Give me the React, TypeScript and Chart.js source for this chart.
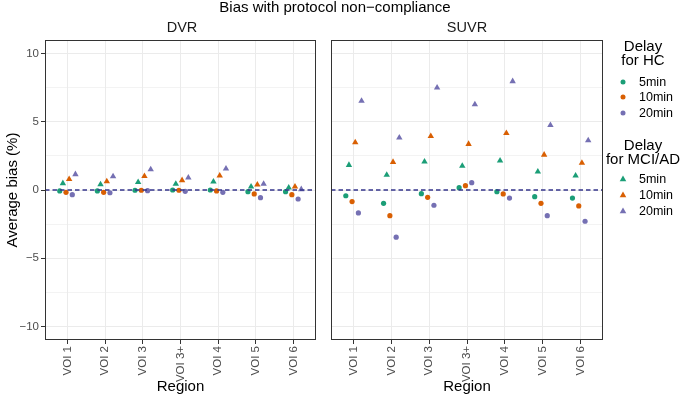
import React, { useEffect, useRef } from "react";
import { Chart, registerables } from "chart.js";
Chart.register(...registerables);

const regions = ["VOI 1", "VOI 2", "VOI 3", "VOI 3+", "VOI 4", "VOI 5", "VOI 6"];
const delays = ["5min", "10min", "20min"];
const delayColors = ["#1B9E77", "#D95F02", "#7570B3"];
const yTicks = [-10, -7.5, -5, -2.5, 0, 2.5, 5, 7.5, 10];
const refLineValue = 0;

// DVR panel
const dvrHC5 = [-0.07, -0.07, -0.02, 0.0, 0.0, -0.12, -0.12];
const dvrHC10 = [-0.17, -0.17, -0.02, -0.02, -0.07, -0.29, -0.34];
const dvrHC20 = [-0.34, -0.2, -0.05, -0.1, -0.17, -0.56, -0.66];
const dvrMCI5 = [0.49, 0.41, 0.58, 0.44, 0.61, 0.24, 0.17];
const dvrMCI10 = [0.8, 0.63, 1.02, 0.71, 1.05, 0.39, 0.24];
const dvrMCI20 = [1.15, 1.0, 1.51, 0.9, 1.56, 0.44, 0.05];

// SUVR panel
const suvrHC5 = [-0.42, -0.98, -0.27, 0.17, -0.12, -0.49, -0.59];
const suvrHC10 = [-0.85, -1.88, -0.54, 0.32, -0.29, -0.98, -1.17];
const suvrHC20 = [-1.68, -3.46, -1.12, 0.54, -0.59, -1.88, -2.29];
const suvrMCI5 = [1.83, 1.1, 2.07, 1.76, 2.15, 1.34, 1.05];
const suvrMCI10 = [3.49, 2.05, 3.95, 3.37, 4.17, 2.58, 1.98];
const suvrMCI20 = [6.53, 3.83, 7.51, 6.27, 7.97, 4.75, 3.63];

const FONT = '"Liberation Sans", Arial, Helvetica, sans-serif';
const X_MIN = -0.6;
const X_MAX = regions.length - 1 + 0.6;

function buildDatasets(hc: number[][], mci: number[][]) {
  const ds: any[] = [
    {
      type: "line",
      data: [
        { x: X_MIN, y: refLineValue },
        { x: X_MAX, y: refLineValue },
      ],
      borderColor: "#35358C",
      borderWidth: 1.5,
      borderDash: [4.5, 3],
      pointRadius: 0,
      order: 0,
    },
  ];
  delays.forEach((_, i) => {
    const groups: [number[], string, number][] = [
      [hc[i], "circle", 2.6],
      [mci[i], "triangle", 3.7],
    ];
    groups.forEach(([vals, style, r], j) => {
      const k = i * 2 + j;
      const off = (k - 2.5) * (0.5 / 6);
      ds.push({
        type: "scatter",
        data: vals.map((v, idx) => ({ x: idx + off, y: v })),
        pointStyle: style,
        pointRadius: r,
        backgroundColor: delayColors[i],
        borderColor: delayColors[i],
        borderWidth: 0,
        order: 1,
      });
    });
  });
  return ds;
}

const panelBorder = {
  id: "panelBorder",
  afterDraw(chart: any) {
    const { ctx, chartArea: a } = chart;
    ctx.save();
    ctx.strokeStyle = "#333333";
    ctx.lineWidth = 1;
    const l = Math.round(a.left) + 0.5;
    const t = Math.round(a.top) + 0.5;
    const r = Math.round(a.right) - 0.5;
    const b = Math.round(a.bottom) - 0.5;
    ctx.strokeRect(l, t, r - l, b - t);
    ctx.restore();
  },
};

function makeOptions(showY: boolean, padLeft: number, padRight: number): any {
  return {
    animation: false,
    responsive: false,
    maintainAspectRatio: false,
    layout: { padding: { top: 40, right: padRight, bottom: 0, left: padLeft } },
    plugins: { legend: { display: false }, tooltip: { enabled: false }, title: { display: false } },
    scales: {
      x: {
        type: "linear",
        min: X_MIN,
        max: X_MAX,
        afterBuildTicks: (s: any) => {
          s.ticks = regions.map((_, i) => ({ value: i }));
        },
        afterFit: (s: any) => {
          s.height = 60;
        },
        ticks: {
          callback: (v: any) => regions[Math.round(v)] ?? "",
          minRotation: 90,
          maxRotation: 90,
          autoSkip: false,
          color: "#4D4D4D",
          font: { size: 11.5, family: FONT },
          padding: 2,
        },
        grid: {
          color: "#EBEBEB",
          lineWidth: 1,
          tickColor: "#333333",
          tickLength: 4,
          drawTicks: true,
        },
        border: { display: false },
        title: {
          display: true,
          text: "Region",
          color: "#000000",
          font: { size: 15, family: FONT },
          padding: { top: 0, bottom: 4 },
        },
      },
      y: {
        type: "linear",
        min: -11,
        max: 11,
        afterBuildTicks: (s: any) => {
          s.ticks = yTicks.map((v) => ({ value: v }));
        },
        afterFit: (s: any) => {
          s.width = showY ? 45 : 0;
        },
        ticks: {
          display: showY,
          callback: (v: any) => (v % 5 === 0 ? String(v).replace("-", "\u2212") : ""),
          color: "#4D4D4D",
          font: { size: 11.5, family: FONT },
          padding: 2,
        },
        grid: {
          color: "#EBEBEB",
          lineWidth: (c: any) => (c.tick && c.tick.value % 5 === 0 ? 1 : 0.6),
          tickColor: (c: any) => (showY && c.tick && c.tick.value % 5 === 0 ? "#333333" : "rgba(0,0,0,0)"),
          tickLength: 4,
          drawTicks: showY,
        },
        border: { display: false },
        title: {
          display: showY,
          text: "Average bias (%)",
          color: "#000000",
          font: { size: 15, family: FONT },
          padding: { top: 4, bottom: 0 },
        },
      },
    },
  };
}

function Panel(props: { hc: number[][]; mci: number[][]; showY: boolean; left: number; width: number; padLeft: number; padRight: number }) {
  const ref = useRef<HTMLCanvasElement>(null);
  useEffect(() => {
    if (!ref.current) return;
    const chart = new Chart(ref.current, {
      type: "scatter",
      data: { datasets: buildDatasets(props.hc, props.mci) },
      options: makeOptions(props.showY, props.padLeft, props.padRight),
      plugins: [panelBorder],
    } as any);
    return () => chart.destroy();
  }, []);
  return (
    <canvas
      ref={ref}
      width={props.width}
      height={400}
      style={{ position: "absolute", left: props.left, top: 0, width: props.width, height: 400 }}
    />
  );
}

function Marker({ color, shape }: { color: string; shape: string }) {
  return (
    <svg width={10} height={10} style={{ position: "absolute", left: -5, top: -5 }}>
      {shape === "circle" ? (
        <circle cx={5} cy={5} r={2.5} fill={color} />
      ) : (
        <polygon points="5,1.6 8.3,7.3 1.7,7.3" fill={color} />
      )}
    </svg>
  );
}

function LegendBlock({ title, top, entriesTop, shape }: { title: string[]; top: number; entriesTop: number[]; shape: string }) {
  return (
    <>
      <div
        style={{
          position: "absolute",
          left: 600,
          width: 86,
          top,
          textAlign: "center",
          fontSize: 15,
          lineHeight: "14px",
          color: "#000",
        }}
      >
        {title.map((t, i) => (
          <div key={i}>{t}</div>
        ))}
      </div>
      {delays.map((d, i) => (
        <React.Fragment key={d}>
          <div style={{ position: "absolute", left: 623, top: entriesTop[i] }}>
            <Marker color={delayColors[i]} shape={shape} />
          </div>
          <div
            style={{
              position: "absolute",
              left: 639,
              top: entriesTop[i] - 8,
              fontSize: 12.5,
              lineHeight: "16px",
              color: "#000",
            }}
          >
            {d}
          </div>
        </React.Fragment>
      ))}
    </>
  );
}

export default function App() {
  return (
    <div
      style={{
        position: "fixed",
        left: 0,
        top: 0,
        width: 685,
        height: 400,
        background: "#ffffff",
        fontFamily: FONT,
        overflow: "hidden",
      }}
    >
      <Panel
        hc={[dvrHC5, dvrHC10, dvrHC20]}
        mci={[dvrMCI5, dvrMCI10, dvrMCI20]}
        showY={true}
        left={0}
        width={320}
        padLeft={0}
        padRight={2}
      />
      <Panel
        hc={[suvrHC5, suvrHC10, suvrHC20]}
        mci={[suvrMCI5, suvrMCI10, suvrMCI20]}
        showY={false}
        left={320}
        width={290}
        padLeft={11}
        padRight={7}
      />
      <div style={{ position: "absolute", left: 0, width: 670, top: -1, textAlign: "center", fontSize: 15, lineHeight: "16px", color: "#000" }}>
        Bias with protocol non−compliance
      </div>
      <div style={{ position: "absolute", left: 132, width: 100, top: 19, textAlign: "center", fontSize: 14.5, lineHeight: "16px", color: "#1A1A1A" }}>
        DVR
      </div>
      <div style={{ position: "absolute", left: 417, width: 100, top: 19, textAlign: "center", fontSize: 14.5, lineHeight: "16px", color: "#1A1A1A" }}>
        SUVR
      </div>
      <LegendBlock title={["Delay", "for HC"]} top={39} entriesTop={[81.5, 97, 112.5]} shape="circle" />
      <LegendBlock title={["Delay", "for MCI/AD"]} top={137.5} entriesTop={[179, 195, 210.5]} shape="triangle" />
    </div>
  );
}
